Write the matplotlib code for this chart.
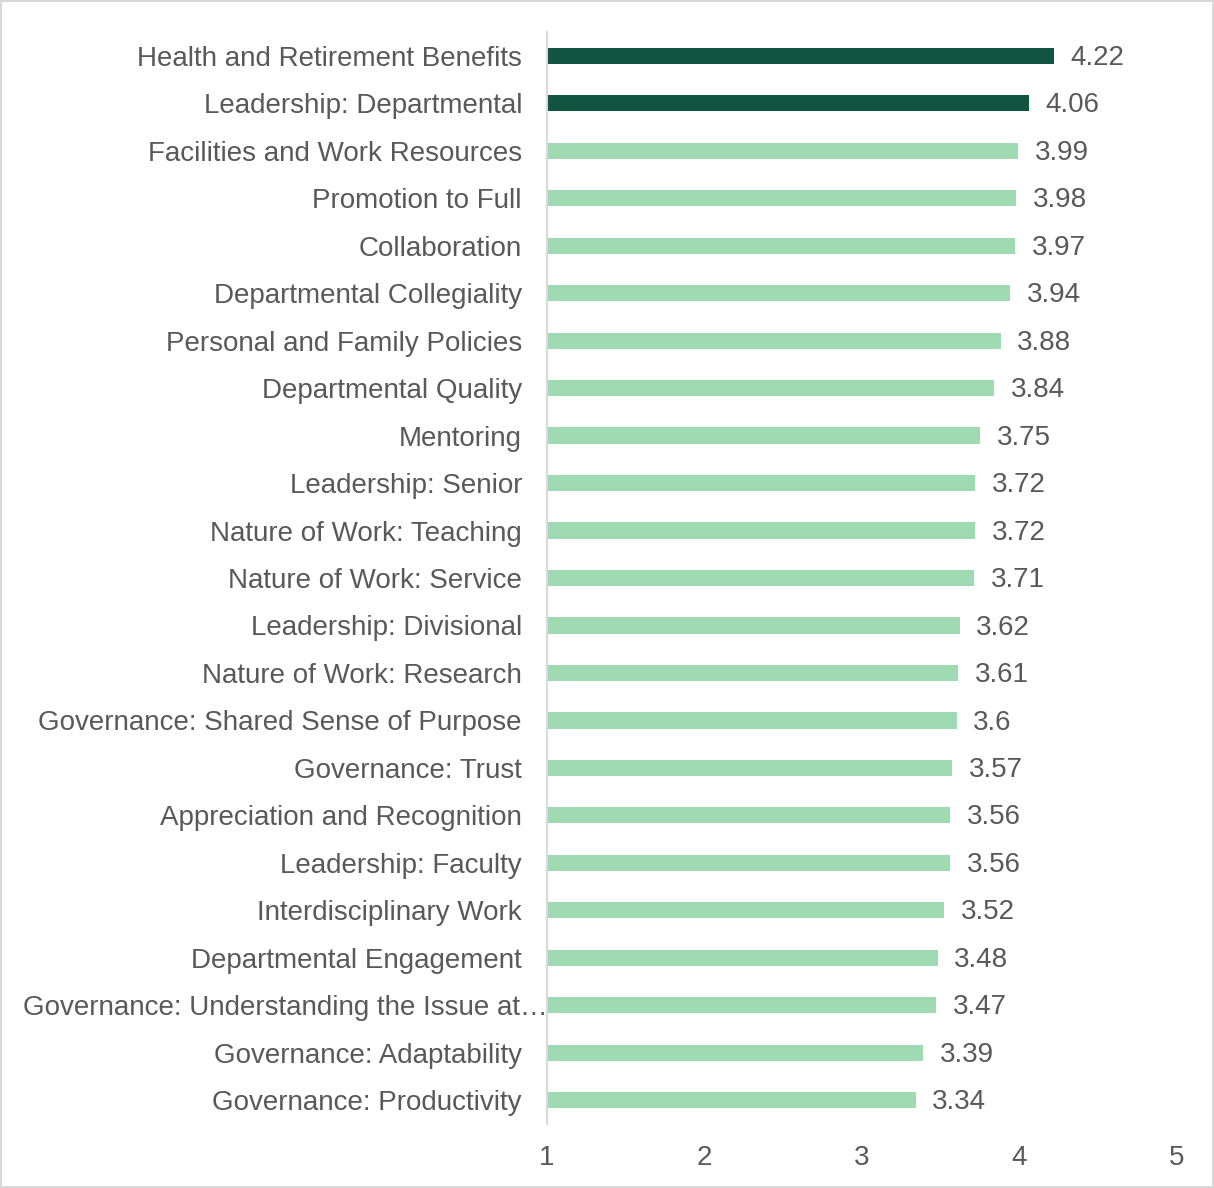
import matplotlib
matplotlib.use("Agg")
import matplotlib.pyplot as plt
from matplotlib.patches import Rectangle
from matplotlib.transforms import ScaledTranslation

categories = [
    "Health and Retirement Benefits",
    "Leadership: Departmental",
    "Facilities and Work Resources",
    "Promotion to Full",
    "Collaboration",
    "Departmental Collegiality",
    "Personal and Family Policies",
    "Departmental Quality",
    "Mentoring",
    "Leadership: Senior",
    "Nature of Work: Teaching",
    "Nature of Work: Service",
    "Leadership: Divisional",
    "Nature of Work: Research",
    "Governance: Shared Sense of Purpose",
    "Governance: Trust",
    "Appreciation and Recognition",
    "Leadership: Faculty",
    "Interdisciplinary Work",
    "Departmental Engagement",
    "Governance: Understanding the Issue at\u2026",
    "Governance: Adaptability",
    "Governance: Productivity",
]
values = [4.22, 4.06, 3.99, 3.98, 3.97, 3.94, 3.88, 3.84, 3.75, 3.72, 3.72, 3.71,
          3.62, 3.61, 3.6, 3.57, 3.56, 3.56, 3.52, 3.48, 3.47, 3.39, 3.34]
value_labels = ["4.22", "4.06", "3.99", "3.98", "3.97", "3.94", "3.88", "3.84", "3.75",
                "3.72", "3.72", "3.71", "3.62", "3.61", "3.6", "3.57", "3.56", "3.56",
                "3.52", "3.48", "3.47", "3.39", "3.34"]
highlight = [True, True] + [False] * 21
xticks = [1, 2, 3, 4, 5]

DARK = "#135440"
LIGHT = "#A0DAB3"
TXT = "#595959"
FS = 20

plt.rcParams['font.family'] = ['Liberation Sans', 'DejaVu Sans']

fig = plt.figure(figsize=(12.14, 11.88), dpi=100)
W, H = 1214, 1188
ax = fig.add_axes([547 / W, 1 - 1124 / H, (1177 - 547) / W, (1124 - 32) / H])

ypos = list(range(len(categories)))
colors = [DARK if h else LIGHT for h in highlight]
ax.barh(ypos, [v - 1 for v in values], left=1, height=0.34, color=colors)

for y, v, lab in zip(ypos, values, value_labels):
    ax.annotate(lab, (v, y), xytext=(12, -1.5), textcoords="offset points",
                ha="left", va="center", fontsize=FS, color=TXT)

ax.set_xlim(1, 5)
ax.set_ylim(len(categories) - 0.5, -0.5)
ax.set_yticks(ypos)
ax.set_yticklabels(categories, fontsize=FS, color=TXT)
ax.set_xticks(xticks)
ax.set_xticklabels([str(t) for t in xticks], fontsize=FS, color=TXT)
ax.tick_params(axis="y", length=0, pad=18)
ax.tick_params(axis="x", length=0, pad=15)
for s in ["top", "right", "bottom"]:
    ax.spines[s].set_visible(False)
ax.spines["left"].set_color("#D9D9D9")
ax.spines["left"].set_linewidth(1.5)

# the truncated label overflows toward the axis in the original
for t in ax.get_yticklabels():
    if t.get_text().endswith("\u2026"):
        t.set_transform(t.get_transform() + ScaledTranslation(0.26, 0, fig.dpi_scale_trans))

fig.patches.append(Rectangle((0.001, 0.001), 0.998, 0.998, transform=fig.transFigure,
                             fill=False, edgecolor="#D9D9D9", linewidth=1.5))

fig.savefig("out.png", dpi=100, facecolor="white")
